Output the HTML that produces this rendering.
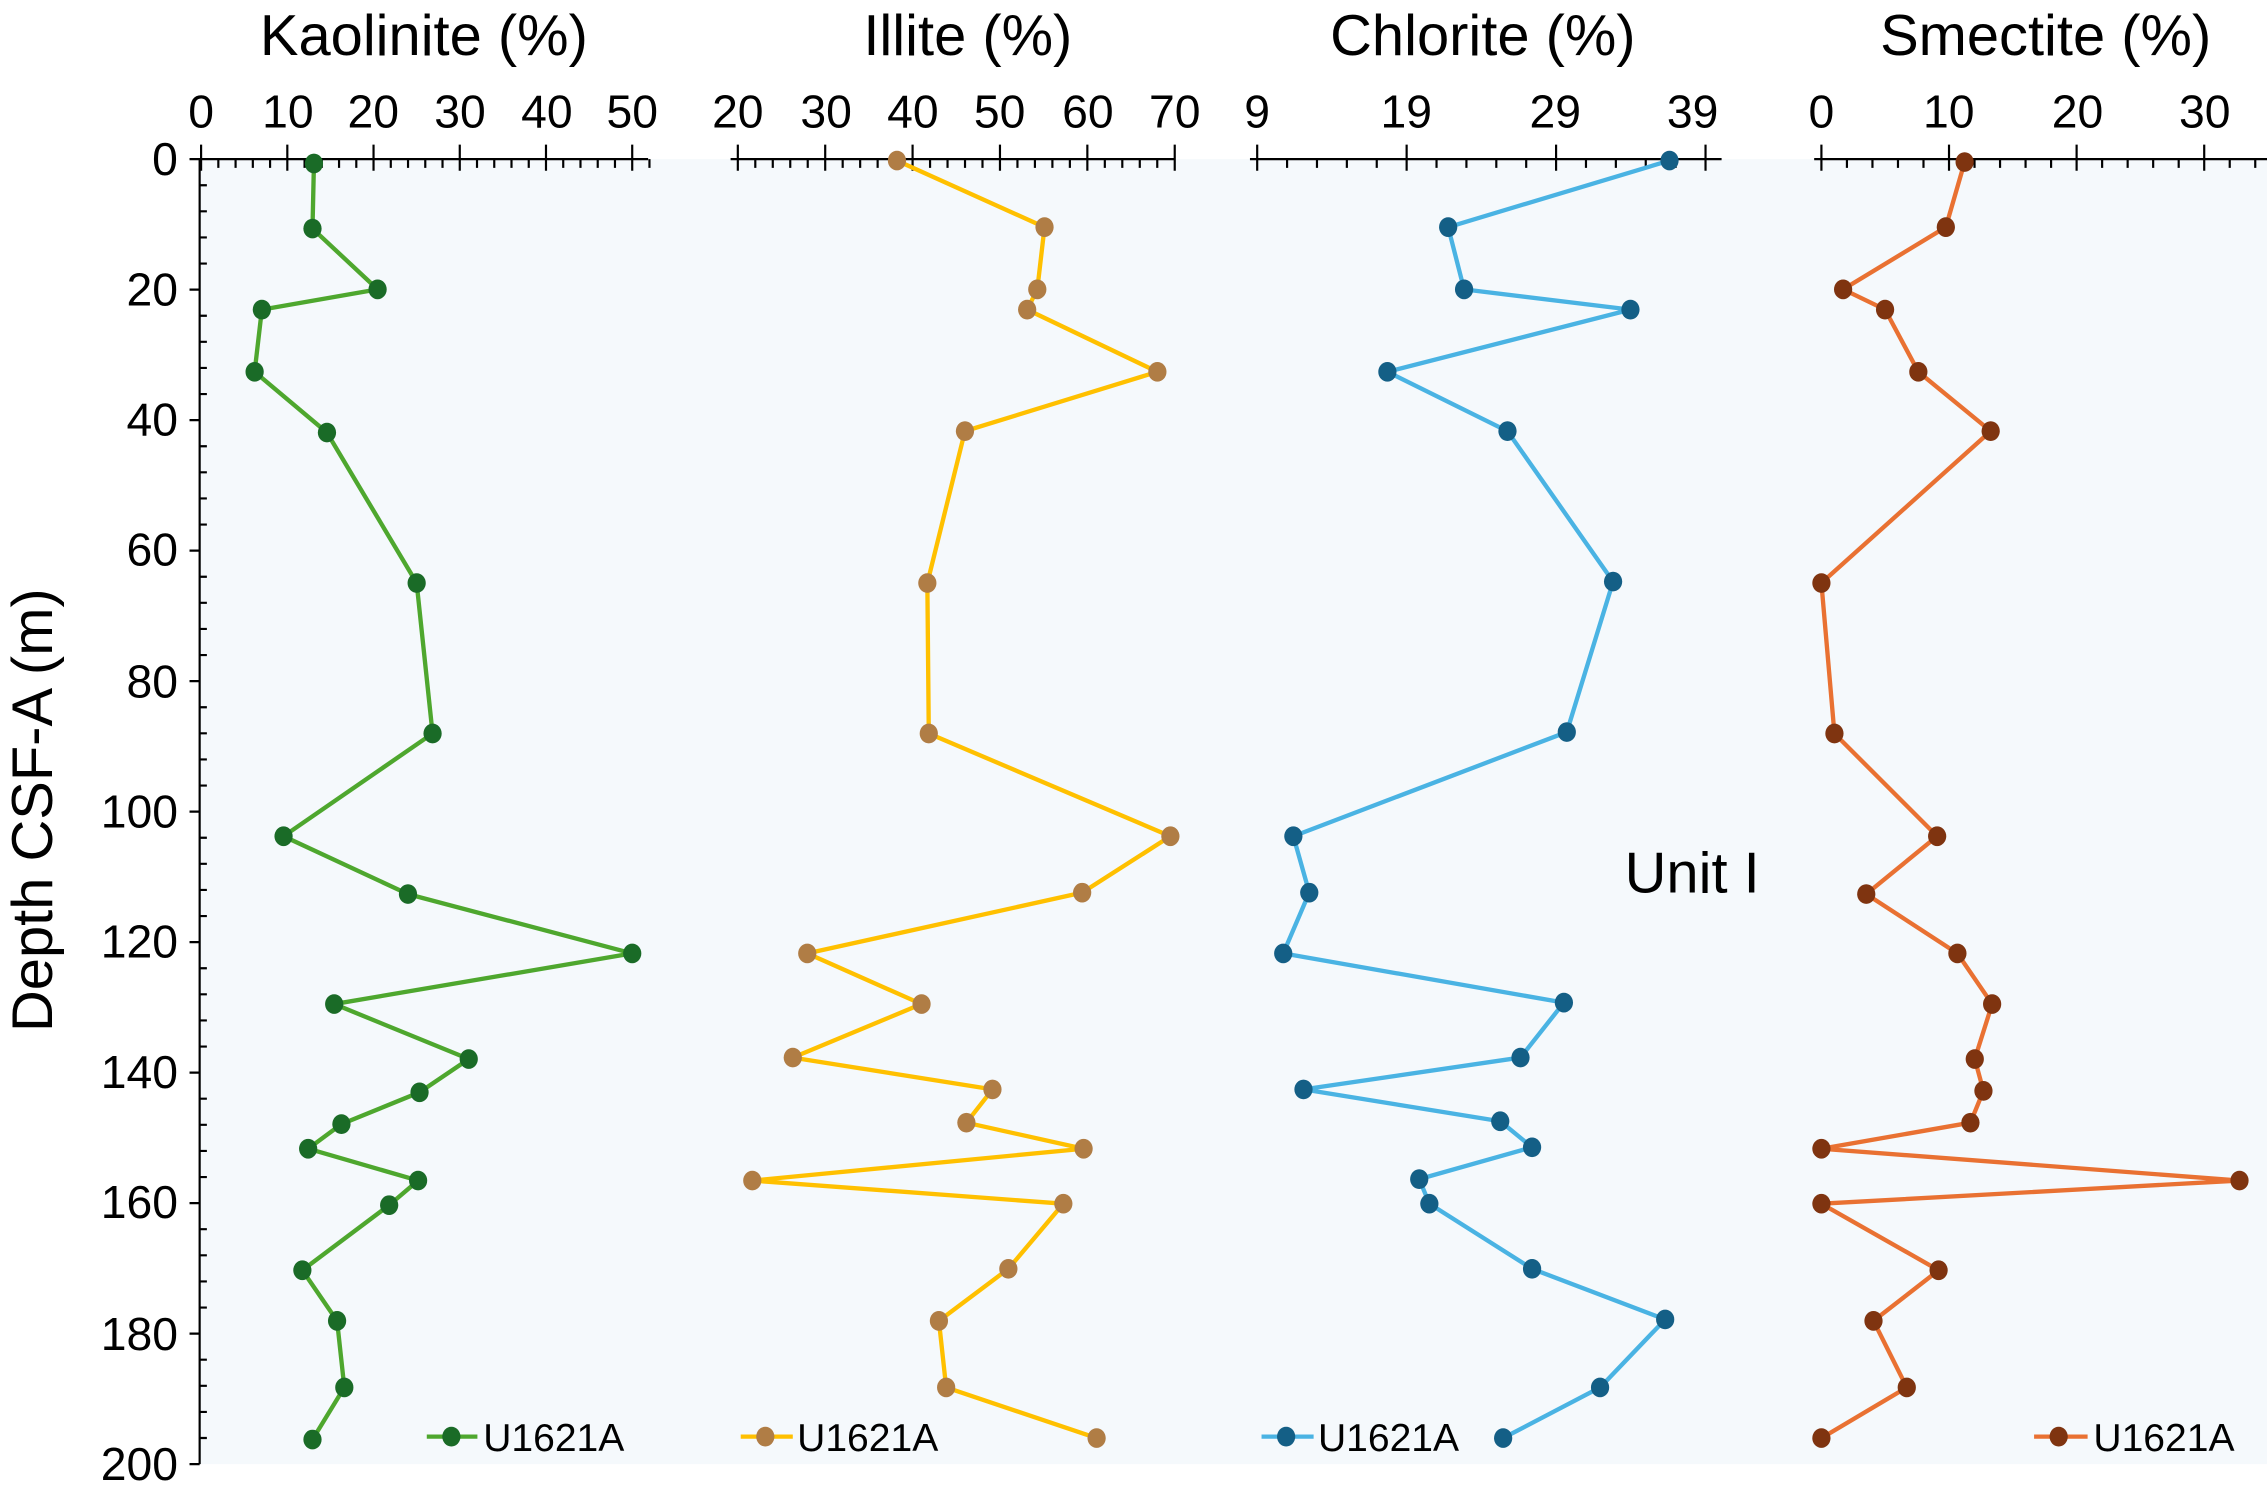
<!DOCTYPE html>
<html><head><meta charset="utf-8"><style>
html,body{margin:0;padding:0;background:#fff;}
svg{display:block;}
text{font-family:"Liberation Sans",Arial,sans-serif;fill:#000;}
</style></head><body>
<svg id="s" width="2267" height="1500" viewBox="0 0 1567 1036.8" preserveAspectRatio="none" xmlns="http://www.w3.org/2000/svg">
<rect x="138" y="110" width="1429" height="902" fill="#f5f9fc"/>
<g font-size="40" text-anchor="middle">
<text x="293" y="38">Kaolinite (%)</text>
<text x="669" y="38">Illite (%)</text>
<text x="1025" y="38">Chlorite (%)</text>
<text x="1414" y="38">Smectite (%)</text>
</g>
<g font-size="32" text-anchor="middle">
<text x="139" y="88">0</text><text x="199" y="88">10</text><text x="258" y="88">20</text><text x="318" y="88">30</text><text x="378" y="88">40</text><text x="437" y="88">50</text>
<text x="510" y="88">20</text><text x="571" y="88">30</text><text x="631" y="88">40</text><text x="691" y="88">50</text><text x="752" y="88">60</text><text x="812" y="88">70</text>
<text x="869" y="88">9</text><text x="972" y="88">19</text><text x="1075" y="88">29</text><text x="1170" y="88">39</text>
<text x="1259" y="88">0</text><text x="1347" y="88">10</text><text x="1436" y="88">20</text><text x="1524" y="88">30</text>
</g>
<g font-size="32" text-anchor="end">
<text x="123" y="121">0</text><text x="123" y="211">20</text><text x="123" y="301">40</text><text x="123" y="391">60</text><text x="123" y="482">80</text><text x="123" y="572">100</text><text x="123" y="662">120</text><text x="123" y="752">140</text><text x="123" y="842">160</text><text x="123" y="933">180</text><text x="123" y="1023">200</text>
</g>
<text font-size="40" text-anchor="middle" transform="translate(36,560) rotate(-90)">Depth CSF-A (m)</text>
<text font-size="40" x="1123" y="617">Unit I</text>
<g id="ax" stroke="#000" stroke-width="1.5" fill="none"></g>
<g fill="none" stroke-width="3" stroke-linejoin="round">
<polyline id="p1" stroke="#4ea72e" points="217,113 216,158 261,200 181,214 176,257 226,299 288,403 299,507 196,578 282,618 437,659 231,694 324,732 290,755 236,777 213,794 289,816 269,833 209,878 233,913 238,959 216,995"/>
<polyline id="p2" stroke="#ffc000" points="620,111 722,157 717,200 710,214 800,257 667,298 641,403 642,507 809,578 748,617 558,659 637,694 548,731 686,753 668,776 749,794 520,816 735,832 697,877 649,913 654,959 758,994"/>
<polyline id="p3" stroke="#4ab3e3" points="1154,111 1001,157 1012,200 1127,214 959,257 1042,298 1115,402 1083,506 894,578 905,617 887,659 1081,693 1051,731 901,753 1037,775 1059,793 981,815 988,832 1059,877 1151,912 1106,959 1039,994"/>
<polyline id="p4" stroke="#e97132" points="1358,112 1345,157 1274,200 1303,214 1326,257 1376,298 1259,403 1268,507 1339,578 1290,618 1353,659 1377,694 1365,732 1371,754 1362,776 1259,794 1548,816 1259,832 1340,878 1295,913 1318,959 1259,994"/>
<line x1="295" y1="993" x2="330" y2="993" stroke="#4ea72e"/>
<line x1="512" y1="993" x2="548" y2="993" stroke="#ffc000"/>
<line x1="872" y1="993" x2="908" y2="993" stroke="#4ab3e3"/>
<line x1="1406" y1="993" x2="1443" y2="993" stroke="#e97132"/>
</g>
<g id="dots"></g>
<g font-size="27">
<text x="334" y="1003">U1621A</text>
<text x="551" y="1003">U1621A</text>
<text x="911" y="1003">U1621A</text>
<text x="1447" y="1003">U1621A</text>
</g>
</svg>
<script>
(function(){
var NS="http://www.w3.org/2000/svg",ax=document.getElementById('ax'),d="";
function topAxis(x0,pu,start,end,minor,major,xend){
  d+="M"+(x0-5)+" 110H"+xend;
  for(var v=start;v<=end+1e-6;v+=minor){var x=x0+(v-start)*pu;var r=(v-start)/major;var isM=Math.abs(r-Math.round(r))<1e-6;
    d+= isM? "M"+x+" 100V118" : "M"+x+" 110V116";}
}
topAxis(139,5.96,0,52,2,10,448);
topAxis(510,6.04,20,70,2,10,812);
topAxis(869,10.33,9,40,2,10,1190);
topAxis(1259,8.82,0,35,2,10,1567);
d+="M138 110V1012";
for(var m=0;m<=200;m+=4){var y=110+m*4.51;d+=(m%20==0)?"M131 "+y+"H138":"M138 "+y+"H143";}
var p=document.createElementNS(NS,'path');p.setAttribute('d',d);ax.appendChild(p);
var cols={p1:"#1a6b27",p2:"#b07d45",p3:"#145f86",p4:"#7f3410"},g=document.getElementById('dots');
function dot(x,y,c){var e=document.createElementNS(NS,'ellipse');e.setAttribute('cx',x);e.setAttribute('cy',y);e.setAttribute('rx',6.3);e.setAttribute('ry',6.8);e.setAttribute('fill',c);g.appendChild(e);}
for(var k in cols){document.getElementById(k).getAttribute('points').trim().split(/\s+/).forEach(function(s){var a=s.split(',');dot(+a[0],+a[1],cols[k]);});}
dot(312,993,cols.p1);dot(529,993,cols.p2);dot(889,993,cols.p3);dot(1423,993,cols.p4);
})();
</script>
</body></html>
